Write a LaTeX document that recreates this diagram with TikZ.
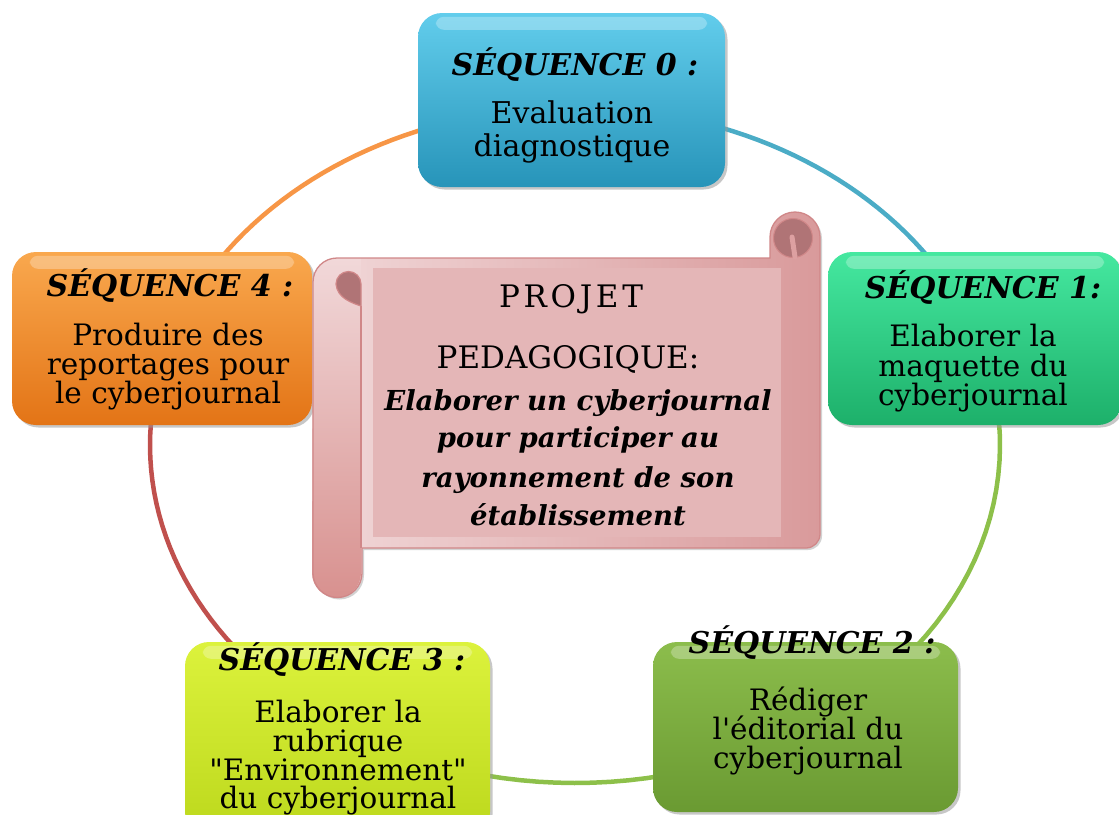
\documentclass[tikz,border=0pt]{standalone}
\usepackage{fontspec}
\setmainfont{DejaVu Serif}[Ligatures=TeXOff]
\usetikzlibrary{shadows}
\definecolor{ringblue}{HTML}{4BACC6}
\definecolor{ringgreen}{HTML}{8DC04A}
\definecolor{ringred}{HTML}{C0504D}
\definecolor{ringorange}{HTML}{F79646}
\definecolor{bAtop}{HTML}{62CDEC}
\definecolor{bAbot}{HTML}{2794B9}
\definecolor{bBtop}{HTML}{45E8A0}
\definecolor{bBbot}{HTML}{1DB06A}
\definecolor{bCtop}{HTML}{8CBD4C}
\definecolor{bCbot}{HTML}{6A9A32}
\definecolor{bDtop}{HTML}{DCF23C}
\definecolor{bDbot}{HTML}{BCD81C}
\definecolor{bEtop}{HTML}{F9A84E}
\definecolor{bEbot}{HTML}{E37416}
\definecolor{sheetL}{HTML}{F1D8D9}
\definecolor{sheetR}{HTML}{D99A9B}
\definecolor{rollBot}{HTML}{D8918F}
\definecolor{curl}{HTML}{B07476}
\definecolor{scrollline}{HTML}{D08788}
\definecolor{panelpink}{HTML}{E4B6B7}
\definecolor{hookpink}{HTML}{DDA0A1}
\begin{document}
\begin{tikzpicture}[x=1pt,y=-1pt,
  seqbox/.style={rounded corners=24pt, inner sep=0pt, draw=none,
    drop shadow={shadow xshift=2.5pt, shadow yshift=-2.5pt, fill=black!40, opacity=0.55}},
  gloss/.style={fill=white, opacity=0.28, rounded corners=8pt},
  ttl/.style={anchor=base, inner sep=0pt, font=\fontsize{30}{32}\selectfont\bfseries\itshape},
  bodyline/.style={anchor=base, inner sep=0pt, font=\fontsize{29.5}{30}\selectfont},
  bigline/.style={anchor=base, inner sep=0pt, font=\fontsize{30}{30}\selectfont},
  projline/.style={anchor=base, inner sep=0pt, font=\fontsize{31}{32}\selectfont},
  itline/.style={anchor=base, inner sep=0pt, font=\fontsize{27.5}{30}\selectfont\bfseries\itshape},
  ring/.style={line width=4.5pt},
]
\useasboundingbox (0,0) rectangle (1119,814);

% ring segments
\draw[ring, ringorange] plot[domain=90:161, samples=40] ({575+425*cos(\x)}, {445-338*sin(\x)});
\draw[ring, ringred] plot[domain=161:236, samples=40] ({575+425*cos(\x)}, {445-338*sin(\x)});
\draw[ring, ringgreen] plot[domain=236:379, samples=60] ({575+425*cos(\x)}, {445-338*sin(\x)});
\draw[ring, ringblue] plot[domain=19:90, samples=40] ({575+425*cos(\x)}, {445-338*sin(\x)});

% sequence boxes
\node[seqbox, minimum width=307pt, minimum height=174pt, top color=bAtop, bottom color=bAbot] (s0) at (571.5,100) {};
\node[seqbox, minimum width=294pt, minimum height=173pt, top color=bBtop, bottom color=bBbot] (s1) at (975,338.5) {};
\node[seqbox, minimum width=305pt, minimum height=170pt, top color=bCtop, bottom color=bCbot] (s2) at (805.5,727) {};
\node[seqbox, minimum width=305pt, minimum height=194pt, top color=bDtop, bottom color=bDbot] (s3) at (337.5,739) {};
\node[seqbox, minimum width=300pt, minimum height=173pt, top color=bEtop, bottom color=bEbot] (s4) at (162,338.5) {};

\foreach \b in {s0,s1,s2,s3,s4}{
  \fill[gloss] ([xshift=18pt,yshift=-4pt]\b.north west) rectangle ([xshift=-18pt,yshift=-17pt]\b.north east);
}

% box texts
\node[ttl] (s0t) at (575,75) {SÉQUENCE 0 :};
\node[bigline] (s0a) at (572,123) {Evaluation};
\node[bigline] (s0b) at (572,156) {diagnostique};

\node[ttl] (s1t) at (983,298) {SÉQUENCE 1:};
\node[bodyline] (s1a) at (973,346) {Elaborer la};
\node[bodyline] (s1b) at (973,376) {maquette du};
\node[bodyline] (s1c) at (973,405) {cyberjournal};

\node[ttl] (s2t) at (812,653) {SÉQUENCE 2 :};
\node[bodyline] (s2a) at (808,710) {Rédiger};
\node[bodyline] (s2b) at (808,739) {l'éditorial du};
\node[bodyline] (s2c) at (808,768) {cyberjournal};

\node[ttl] (s3t) at (342,670) {SÉQUENCE 3 :};
\node[bodyline] (s3a) at (338,722) {Elaborer la};
\node[bodyline] (s3b) at (338,751) {rubrique};
\node[bodyline] (s3c) at (338,780) {"Environnement"};
\node[bodyline] (s3d) at (338,808) {du cyberjournal};

\node[ttl] (s4t) at (170,296) {SÉQUENCE 4 :};
\node[bodyline] (s4a) at (168,345) {Produire des};
\node[bodyline] (s4b) at (168,374) {reportages pour};
\node[bodyline] (s4c) at (168,403) {le cyberjournal};

% scroll
\path[left color=sheetL, right color=sheetR,
  drop shadow={shadow xshift=2pt, shadow yshift=-2pt, fill=black!35, opacity=0.5}]
  (337,258) -- (770,258) -- (770,237) arc[start angle=180,end angle=360,radius=25]
  -- (820,534) arc[start angle=0,end angle=90,radius=14] -- (362,548) -- (362,573)
  arc[start angle=0,end angle=180,radius=24.5] -- (313,282)
  arc[start angle=180,end angle=270,radius=24] -- cycle;
\path[top color=sheetL, bottom color=rollBot]
  (313,282) arc[start angle=180,end angle=270,radius=24] -- (361,258) -- (361,573)
  arc[start angle=0,end angle=180,radius=24.5] -- cycle;
\draw[scrollline, line width=1.3pt]
  (337,258) -- (770,258) -- (770,237) arc[start angle=180,end angle=360,radius=25]
  -- (820,534) arc[start angle=0,end angle=90,radius=14] -- (362,548) -- (362,573)
  arc[start angle=0,end angle=180,radius=24.5] -- (313,282)
  arc[start angle=180,end angle=270,radius=24] -- cycle;
% left curl
\filldraw[fill=curl, draw=scrollline, line width=1.2pt]
  (336,284) arc[start angle=180,end angle=360,radius=12.5] -- (361,306)
  .. controls (352,303) and (337,298) .. (336,284) -- cycle;
\draw[scrollline, line width=1.3pt] (361,306) -- (361,548);
% right curl
\filldraw[fill=curl, draw=scrollline, line width=1pt] (793,238) circle[radius=19.5];
\draw[hookpink, line width=5pt, line cap=round] (792,237) -- (795,257);

\node[fill=panelpink, inner sep=0pt, minimum width=408pt, minimum height=269pt] (panel) at (577,402.5) {};

% scroll text
\node[projline] (pj1) at (571,307) {\addfontfeature{LetterSpace=12}PROJET};
\node[projline] (pj2) at (568,368) {PEDAGOGIQUE:};
\node[itline] (it1) at (578,410) {Elaborer un cyberjournal};
\node[itline] (it2) at (578,447) {pour participer au};
\node[itline] (it3) at (578,487) {rayonnement de son};
\node[itline] (it4) at (578,525) {établissement};
\end{tikzpicture}
\end{document}
